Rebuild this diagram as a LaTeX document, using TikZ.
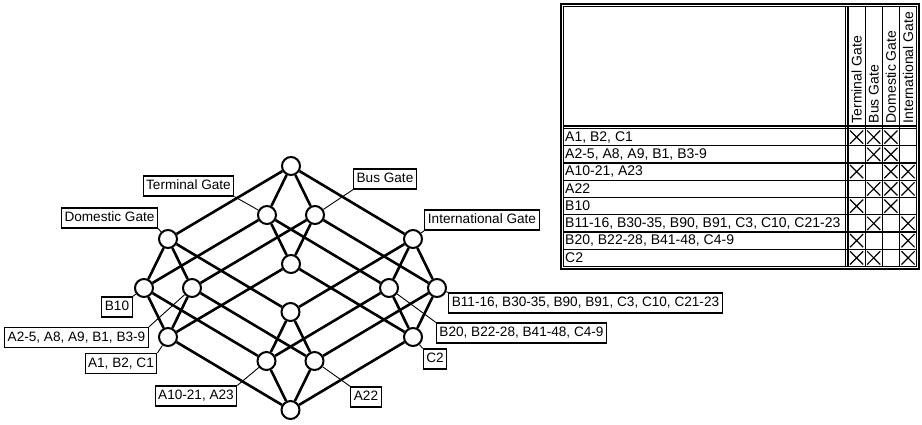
\documentclass[tikz,border=0pt]{standalone}
\usepackage{fontspec}
\setmainfont{Liberation Sans}
\begin{document}
\begin{tikzpicture}[x=1pt,y=-1pt,
  lat/.style={circle,draw,fill=white,line width=2pt,minimum size=18pt,inner sep=0pt},
  edge/.style={line width=2.6pt},
  lbl/.style={draw,line width=1.1pt,fill=white,inner xsep=3pt,inner ysep=0pt,text height=10.5pt,text depth=3pt,minimum height=20pt,font=\fontsize{13.6}{16}\selectfont},
  leader/.style={line width=0.9pt},
  tline/.style={line width=1.1pt},
  cross/.style={line width=1.2pt},
  rowtxt/.style={anchor=west,inner sep=0pt,font=\fontsize{14}{16}\selectfont},
  coltxt/.style={rotate=90,anchor=west,inner sep=1pt,font=\fontsize{14}{16}\selectfont}]
\useasboundingbox (0,0) rectangle (922,424);
% lattice nodes
\node[lat] (top) at (291,166) {};
\node[lat] (T) at (267,215) {};
\node[lat] (B) at (315,215) {};
\node[lat] (D) at (168,239) {};
\node[lat] (I) at (413,239) {};
\node[lat] (TB) at (291,264) {};
\node[lat] (TD) at (144,288) {};
\node[lat] (BD) at (192,288) {};
\node[lat] (TI) at (389,288) {};
\node[lat] (BI) at (437,288) {};
\node[lat] (DI) at (290.5,312) {};
\node[lat] (TBD) at (168,337) {};
\node[lat] (TBI) at (413,337) {};
\node[lat] (TDI) at (266.5,361) {};
\node[lat] (BDI) at (314.5,361) {};
\node[lat] (ALL) at (290.5,410) {};
\foreach \a/\b in {top/T,top/B,top/D,top/I,
  T/TB,T/TD,T/TI,B/TB,B/BD,B/BI,D/TD,D/BD,D/DI,I/TI,I/BI,I/DI,
  TB/TBD,TB/TBI,TD/TBD,TD/TDI,BD/TBD,BD/BDI,TI/TBI,TI/TDI,BI/TBI,BI/BDI,DI/TDI,DI/BDI,
  TBD/ALL,TBI/ALL,TDI/ALL,BDI/ALL}
  \draw[edge] (\a) -- (\b);
% labels
\node[lbl] (lT) at (188.5,186) {Terminal Gate};
\node[lbl] (lB) at (385,179) {Bus Gate};
\node[lbl] (lD) at (109.5,218) {Domestic Gate};
\node[lbl] (lI) at (482,220) {International Gate};
\node[lbl] (lB10) at (117,307) {B10};
\node[lbl] (lA2) at (76.5,337.5) {A2-5, A8, A9, B1, B3-9};
\node[lbl] (lA1) at (121,363.5) {A1, B2, C1};
\node[lbl] (lA10) at (196,396) {A10-21, A23};
\node[lbl] (lA22) at (366,397) {A22};
\node[lbl] (lC2) at (435,359) {C2};
\node[lbl] (lB11) at (585.5,303) {B11-16, B30-35, B90, B91, C3, C10, C21-23};
\node[lbl] (lB20) at (521.5,333) {B20, B22-28, B41-48, C4-9};
\draw[leader] (lT.south east) -- (T);
\draw[leader] (lB.south west) -- (B);
\draw[leader] (lD.south east) -- (D);
\draw[leader] (lI.south west) -- (I);
\draw[leader] (lB10.north east) -- (TD);
\draw[leader] (lA2.north east) -- (BD);
\draw[leader] (lA1.north east) -- (TBD);
\draw[leader] (lA10.north east) -- (TDI);
\draw[leader] (lA22.north west) -- (BDI);
\draw[leader] (lC2.north west) -- (TBI);
\draw[leader] (lB11.north west) -- (BI);
\draw[leader] (lB20.north west) -- (TI);
% table frame
\draw[tline] (561,4) rectangle (919,269);
\draw[tline] (563.5,6.5) rectangle (916.5,266.5);
\draw[tline] (563.5,126) -- (916.5,126);
\draw[tline] (563.5,128.5) -- (916.5,128.5);
\draw[tline] (845.5,6.5) -- (845.5,266.5);
\draw[tline] (848,6.5) -- (848,266.5);
\foreach \k in {1,2,3}
  \draw[tline] ({848+17.15*\k},6.5) -- ({848+17.15*\k},266.5);
\foreach \k in {1,...,7}
  \draw[line width=1.3pt] (563.5,{128.5+17.25*\k}) -- (916.5,{128.5+17.25*\k});
% header
\foreach \h [count=\j] in {Terminal Gate,Bus Gate,Domestic Gate,International Gate}
  \node[coltxt] (h\j) at ({848+17.15*(\j-0.5)},124.5) {\h};
% rows
\foreach \txt/\a/\b/\c/\d [count=\i] in {
  {A1, B2, C1}/1/1/1/0,
  {A2-5, A8, A9, B1, B3-9}/0/1/1/0,
  {A10-21, A23}/1/0/1/1,
  {A22}/0/1/1/1,
  {B10}/1/0/1/0,
  {B11-16, B30-35, B90, B91, C3, C10, C21-23}/0/1/0/1,
  {B20, B22-28, B41-48, C4-9}/1/0/0/1,
  {C2}/1/1/0/1}{
  \node[rowtxt] (r\i) at (565,{128.5+17.25*(\i-0.5)}) {\txt};
  \foreach \f [count=\j] in {\a,\b,\c,\d}{
    \ifnum\f=1
      \draw[cross] ({848+17.15*(\j-1)+2},{128.5+17.25*(\i-1)+2}) -- ({848+17.15*\j-2},{128.5+17.25*\i-2})
                   ({848+17.15*(\j-1)+2},{128.5+17.25*\i-2}) -- ({848+17.15*\j-2},{128.5+17.25*(\i-1)+2});
    \fi
  }
}
\end{tikzpicture}
\end{document}
